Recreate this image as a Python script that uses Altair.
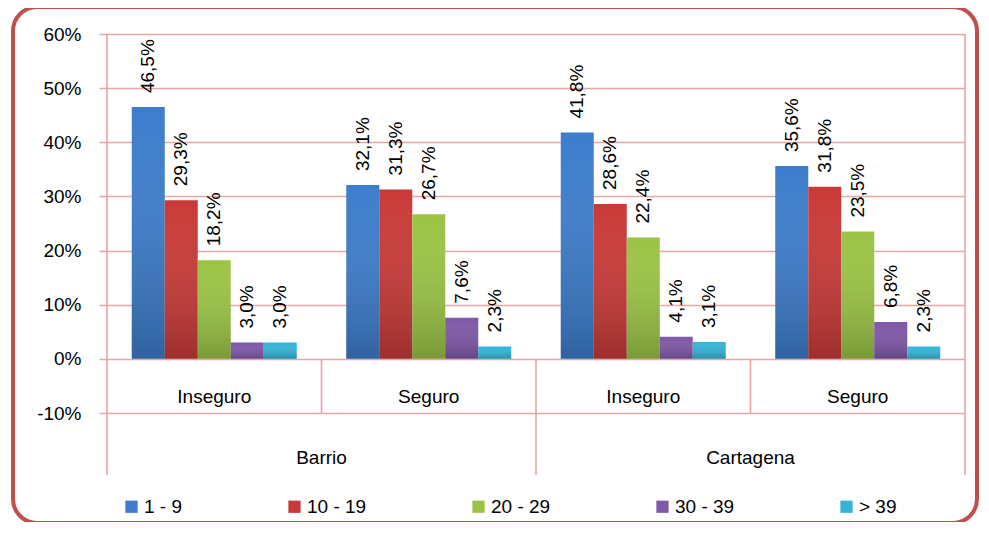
import altair as alt
import pandas as pd

# ---- data ----
outer = ["Barrio", "Barrio", "Cartagena", "Cartagena"]
inner = ["Inseguro", "Seguro", "Inseguro", "Seguro"]
ages = ["1 - 9", "10 - 19", "20 - 29", "30 - 39", "> 39"]
s_1_9 = [46.5, 32.1, 41.8, 35.6]
s_10_19 = [29.3, 31.3, 28.6, 31.8]
s_20_29 = [18.2, 26.7, 22.4, 23.5]
s_30_39 = [3.0, 7.6, 4.1, 6.8]
s_gt_39 = [3.0, 2.3, 3.1, 2.3]
y_ticks = [-0.1, 0.0, 0.1, 0.2, 0.3, 0.4, 0.5, 0.6]

colors = ["#3d7dcc", "#c93a37", "#9bc445", "#7f58a8", "#34b4d8"]
GRID = "#e6a6a6"
FONT = "Liberation Sans"

keys = [f"{o}|{i}" for o, i in zip(outer, inner)]
rows = []
for a, ser in zip(ages, [s_1_9, s_10_19, s_20_29, s_30_39, s_gt_39]):
    for k, v in zip(keys, ser):
        rows.append({"g": k, "a": a, "v": v / 100.0,
                     "lab": f"{v:.1f}".replace(".", ",") + "%"})
df = pd.DataFrame(rows)

inner_df = pd.DataFrame({"g": keys, "lab": inner})
outer_df = pd.DataFrame({"g": [keys[1], keys[3]], "lab": [outer[0], outer[2]]})

xscale = alt.Scale(domain=keys, paddingInner=0, paddingOuter=0)
yscale = alt.Scale(domain=[-0.1, 0.6], nice=False, zero=False)
offscale = alt.Scale(domain=ages, paddingInner=0, paddingOuter=0.75)


def X(bp=None):
    if bp is None:
        return alt.X("g:N", scale=xscale, sort=keys, axis=None)
    return alt.X("g:N", scale=xscale, sort=keys, axis=None, bandPosition=bp)


xoff = alt.XOffset("a:N", scale=offscale, sort=ages)

yaxis = alt.Axis(values=y_ticks, title=None, grid=True, gridColor=GRID,
                 gridWidth=1.6, domain=False, tickColor=GRID, tickWidth=1.6,
                 tickSize=8, labelPadding=18, labelFontSize=19,
                 labelColor="black", labelFont=FONT,
                 labelExpr="(datum.value < 0 ? '-' : '') + format(abs(datum.value), '.0%')")

border = alt.Chart(pd.DataFrame({"k": [1]})).mark_rect(
    fillOpacity=0, stroke="#c0504d", strokeWidth=4, cornerRadius=24
).encode(x=alt.value(-94), x2=alt.value(870), y=alt.value(-27), y2=alt.value(489))

bars = alt.Chart(df).mark_bar().encode(
    x=X(), xOffset=xoff,
    y=alt.Y("v:Q", scale=yscale, axis=yaxis),
    y2=alt.datum(0),
    color=alt.Color("a:N", sort=ages,
                    scale=alt.Scale(domain=ages, range=colors),
                    legend=alt.Legend(orient="none", legendX=15, legendY=463,
                                      direction="horizontal", title=None,
                                      symbolType="square", symbolSize=150,
                                      symbolStrokeWidth=0, labelFontSize=19,
                                      labelFont=FONT, labelColor="black",
                                      columnPadding=102, padding=0,
                                      labelOffset=3)),
)

shade = alt.Chart(df).mark_bar(
    fill=alt.Gradient(gradient="linear",
                      stops=[alt.GradientStop(color="rgba(255,255,255,0.0)", offset=0),
                             alt.GradientStop(color="rgba(0,0,0,0.22)", offset=1)],
                      x1=0, x2=0, y1=0, y2=1)
).encode(x=X(), xOffset=xoff, y=alt.Y("v:Q", scale=yscale), y2=alt.datum(0))

labels = alt.Chart(df).mark_text(
    angle=270, align="left", baseline="middle", dx=14, fontSize=19,
    font=FONT, color="black"
).encode(x=X(), xOffset=xoff, y=alt.Y("v:Q", scale=yscale), text="lab:N")

left_rule = alt.Chart(pd.DataFrame({"g": [keys[0]]})).mark_rule(
    color=GRID, strokeWidth=1.6
).encode(x=X(0), y=alt.value(0), y2=alt.value(441))

right_rule = alt.Chart(pd.DataFrame({"g": [keys[-1]]})).mark_rule(
    color=GRID, strokeWidth=1.6
).encode(x=X(1), y=alt.value(0), y2=alt.value(441))

mid_rule = alt.Chart(pd.DataFrame({"g": [keys[2]]})).mark_rule(
    color=GRID, strokeWidth=1.6
).encode(x=X(0), y=alt.datum(0, scale=yscale), y2=alt.value(441))

inner_rules = alt.Chart(pd.DataFrame({"g": [keys[1], keys[3]]})).mark_rule(
    color=GRID, strokeWidth=1.6
).encode(x=X(0), y=alt.datum(0, scale=yscale), y2=alt.datum(-0.1))

inner_text = alt.Chart(inner_df).mark_text(
    baseline="alphabetic", fontSize=19, font=FONT, color="black"
).encode(x=X(), y=alt.value(369), text="lab:N")

outer_text = alt.Chart(outer_df).mark_text(
    baseline="alphabetic", fontSize=19, font=FONT, color="black"
).encode(x=X(0), y=alt.value(430), text="lab:N")

chart = alt.layer(
    border, bars, shade, labels, left_rule, right_rule, mid_rule,
    inner_rules, inner_text, outer_text
).properties(
    width=858, height=379,
    padding={"left": 99, "top": 26, "right": 16, "bottom": 109},
    autosize=alt.AutoSizeParams(type="none"),
).configure_view(stroke=None)

chart.save("out.html", embed_options={"renderer": "svg", "actions": False})
